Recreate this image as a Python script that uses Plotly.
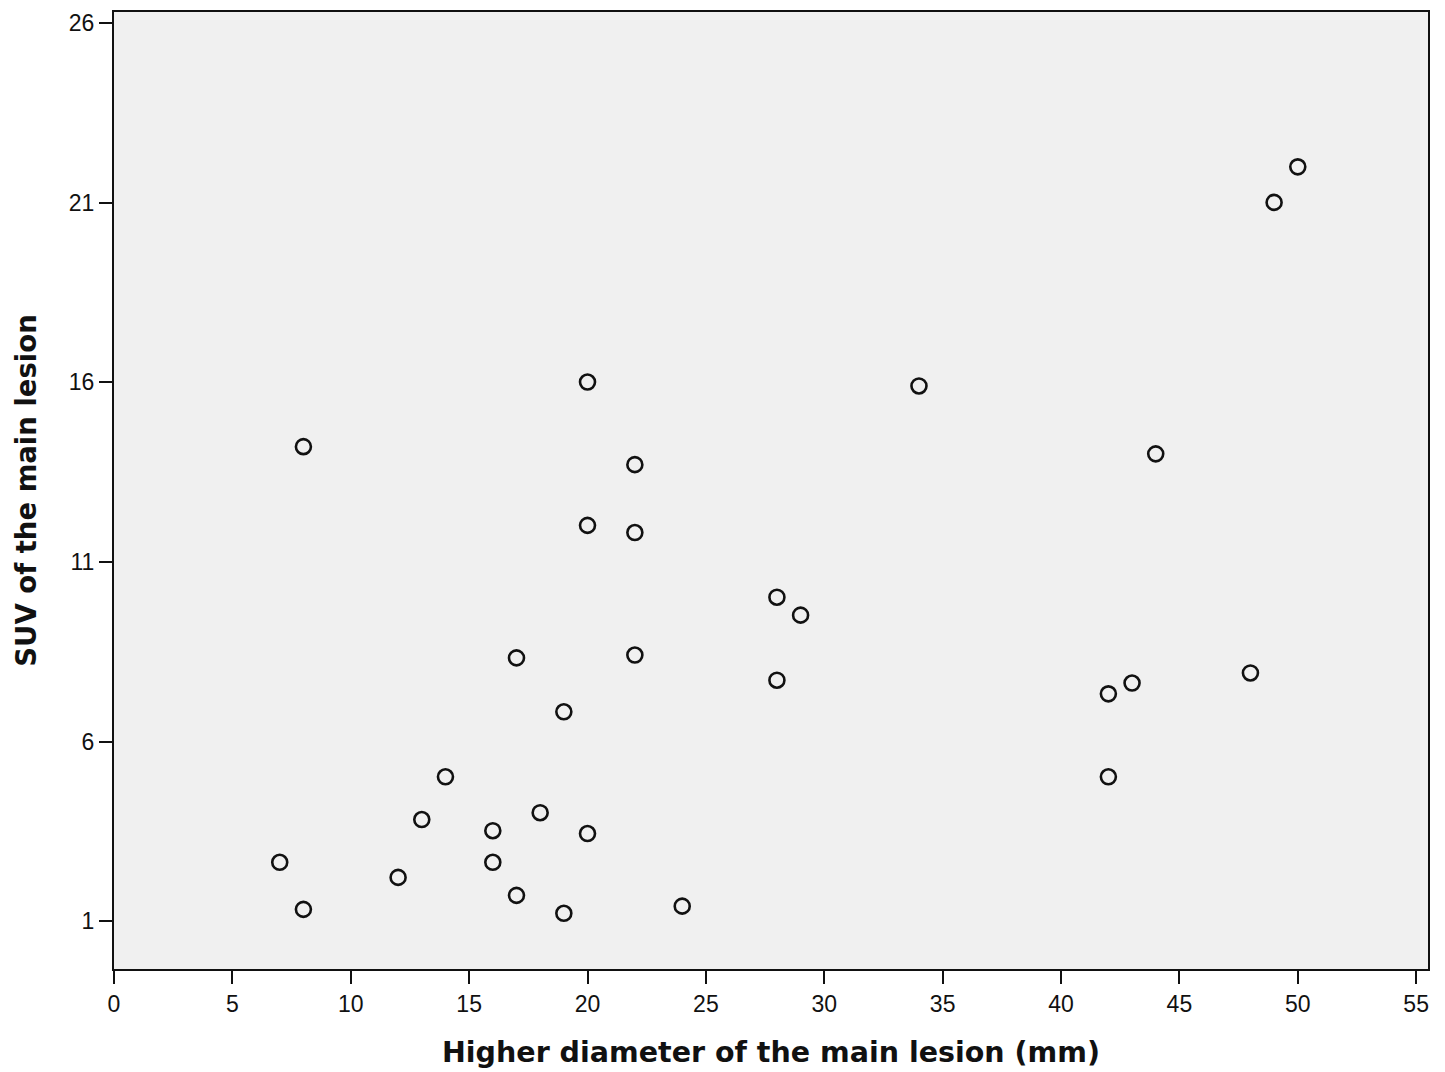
import plotly.graph_objects as go

diameter_mm = [7, 8, 8, 12, 13, 14, 16, 16, 17, 17, 18, 19, 19, 20, 20, 20,
               22, 22, 22, 24, 28, 28, 29, 34, 42, 42, 43, 44, 48, 49, 50]
suv = [2.64, 1.33, 14.21, 2.22, 3.83, 5.02, 3.52, 2.64, 1.72, 8.33, 4.02, 1.22, 6.83, 3.44, 12.02, 16.01,
       11.82, 13.71, 8.41, 1.42, 10.02, 7.71, 9.52, 15.90, 7.33, 5.02, 7.63, 14.01, 7.91, 21.01, 22.0]

x_ticks = [0, 5, 10, 15, 20, 25, 30, 35, 40, 45, 50, 55]
y_ticks = [1, 6, 11, 16, 21, 26]

fig = go.Figure()
fig.add_trace(go.Scatter(
    x=diameter_mm, y=suv, mode="markers",
    marker=dict(symbol="circle-open", size=15, color="#111111", line=dict(width=2.6, color="#111111")),
    showlegend=False, hoverinfo="x+y",
))

font = "Liberation Sans, Arial, sans-serif"
title_font = "DejaVu Sans, Verdana, sans-serif"
fig.update_layout(
    width=1437, height=1064,
    margin=dict(l=106, r=17, t=2, b=103),
    paper_bgcolor="white",
    plot_bgcolor="#f0f0f0",
    font=dict(family=font, color="#111111", size=23),
    xaxis=dict(
        range=[0, 55.5], tickvals=x_ticks, ticktext=[str(v) for v in x_ticks],
        showgrid=False, zeroline=False, showline=True, linecolor="#111111", linewidth=2,
        mirror=True, ticks="outside", ticklen=13, tickwidth=2, tickcolor="#111111",
        tickfont=dict(size=23, family=font),
        title=dict(text="Higher diameter of the main lesion (mm)",
                   font=dict(size=28.5, family=title_font, weight="bold"), standoff=26),
    ),
    yaxis=dict(
        range=[-0.33, 26.31], tickvals=y_ticks, ticktext=[str(v) for v in y_ticks],
        showgrid=False, zeroline=False, showline=True, linecolor="#111111", linewidth=2,
        mirror=True, ticks="outside", ticklen=13, tickwidth=2, tickcolor="#111111",
        tickfont=dict(size=23, family=font),
        title=dict(text="SUV of the main lesion",
                   font=dict(size=27.5, family=title_font, weight="bold"), standoff=24),
    ),
)

fig.write_html("out.html")
